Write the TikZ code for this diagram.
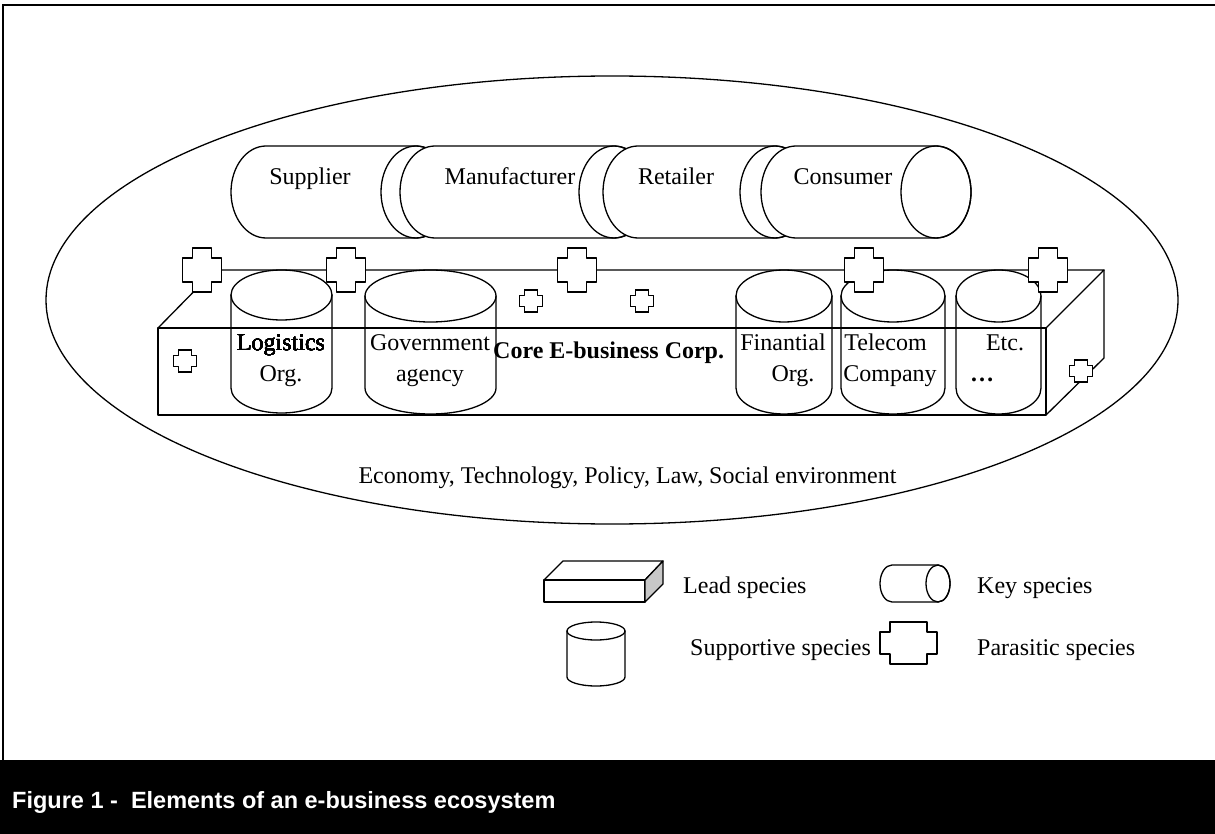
\documentclass[tikz,border=0pt]{standalone}
\usepackage{fontspec}
\setmainfont{Liberation Serif}
\newfontfamily\capfont{Liberation Sans}
\tikzset{
 shapeline/.style={line width=1.3pt, line join=round},
 lbl/.style={inner sep=0pt, anchor=base, font=\fontsize{24}{26}\selectfont},
}
% horizontal cylinder: left cap x, right cap x, middle y, cap radii
\newcommand\keycyl[5]{%
 \filldraw[shapeline, fill=white] (#1,#3-#5) -- (#2,#3-#5)
 arc[start angle=270, end angle=450, x radius=#4, y radius=#5]
 -- (#1,#3+#5) arc[start angle=90, end angle=270, x radius=#4, y radius=#5] -- cycle;
 \draw[shapeline] (#2,#3) ellipse[x radius=#4, y radius=#5];}
% upright cylinder: centre x, half width, top cap y, bottom cap y, cap radius
\newcommand\suppcyl[5]{%
 \draw[shapeline] (#1-#2,#3) -- (#1-#2,#4) arc[start angle=180, end angle=0, x radius=#2, y radius=#5] -- (#1+#2,#3);
 \draw[shapeline] (#1,#3) ellipse[x radius=#2, y radius=#5];}
% plus: centre, width, height, arm width, arm height
\newcommand\paraplus[5]{%
 \filldraw[shapeline, fill=white] #1 ++({-#4/2},{-#3/2}) -- ++(#4,0) -- ++(0,{(#3-#5)/2})
 -- ++({(#2-#4)/2},0) -- ++(0,#5) -- ++({-(#2-#4)/2},0) -- ++(0,{(#3-#5)/2}) -- ++(-#4,0)
 -- ++(0,{-(#3-#5)/2}) -- ++({-(#2-#4)/2},0) -- ++(0,-#5) -- ++({(#2-#4)/2},0) -- cycle;}
\begin{document}
\begin{tikzpicture}[x=1pt, y=-1pt, line cap=round]
 \useasboundingbox (0,0) rectangle (1215,834);
 % environment
 \draw[shapeline] (612,300) ellipse[x radius=566, y radius=224];
 % key species
 \keycyl{266}{416}{192}{35}{46}
 \keycyl{435}{614}{192}{35}{46}
 \keycyl{638}{775}{192}{35}{46}
 \keycyl{796}{936}{192}{35}{46}
 \node[lbl] (supplier) at (310,185) {Supplier};
 \node[lbl] (manufacturer) at (510,185) {Manufacturer};
 \node[lbl] (retailer) at (676,185) {Retailer};
 \node[lbl] (consumer) at (843,185) {Consumer};
 % lead species box
 \draw[shapeline] (158,328) rectangle (1046,415);
 \draw[shapeline] (158,328) -- (215,270) -- (1104,270) -- (1046,328);
 \draw[shapeline] (1104,270) -- (1104,358) -- (1046,415);
 % supportive species
 \suppcyl{281.5}{50.5}{295}{388}{25}
 \suppcyl{430.5}{65.5}{296}{388}{26}
 \suppcyl{784}{48}{296}{388}{26}
 \suppcyl{893}{52}{296}{388}{26}
 \suppcyl{998.5}{42.5}{296}{388}{26}
 % parasitic species
 \foreach \px in {202,346,577,864,1048}
 \paraplus{(\px,270)}{39}{44}{19}{24}
 \foreach \pos in {(531,301),(642,301),(185,361),(1081,371)}
 \paraplus{\pos}{23}{22}{13}{11}
 \node[lbl] (logistics) at (281,350) {Logistics};
 \node[lbl] (logorg) at (281,381) {Org.};
 \node[lbl] (government) at (430,350) {Government};
 \node[lbl] (agency) at (430,381) {agency};
 \node[lbl, anchor=base west] (core) at (493,358) {\textbf{Core E-business Corp.}};
 \node[lbl] (finantial) at (783,350) {Finantial};
 \node[lbl] (finorg) at (793,381) {Org.};
 \node[lbl] (telecom) at (885.5,350) {Telecom};
 \node[lbl] (company) at (890,381) {Company};
 \node[lbl] (etc) at (1005,350) {Etc.};
 \node[lbl] (dots) at (982,381) {\textbf{…}};
 \node[lbl] (env) at (627.5,483) {Economy, Technology, Policy, Law, Social environment};
 % legend
 \draw[shapeline] (544,580) rectangle (645,602);
 \draw[shapeline] (544,580) -- (563,561) -- (663,561) -- (645,580);
 \filldraw[shapeline, fill=black!22] (645,580) -- (663,561) -- (663,584) -- (645,602) -- cycle;
 \node[lbl, anchor=base west] (leadtxt) at (683,593) {Lead species};
 \suppcyl{596}{29}{631}{677}{9}
 \node[lbl, anchor=base west] (supptxt) at (690,655) {Supportive species};
 \keycyl{892}{938}{583.5}{12}{18.5}
 \node[lbl, anchor=base west] (keytxt) at (977,593) {Key species};
 \paraplus{(908.5,643)}{57}{42}{37}{22}
 \node[lbl, anchor=base west] (paratxt) at (977,655) {Parasitic species};
 % frame and caption
 \draw[line width=2.5pt, line cap=butt] (3,760) -- (3,5) -- (1215,5);
 \fill (0,760) rectangle (1215,834);
 \node[inner sep=0pt, anchor=base west, text=white, font=\capfont\bfseries\fontsize{23.5}{26}\selectfont] (caption) at (12,808) {Figure 1 -\ \ Elements of an e-business ecosystem};
\end{tikzpicture}
\end{document}
